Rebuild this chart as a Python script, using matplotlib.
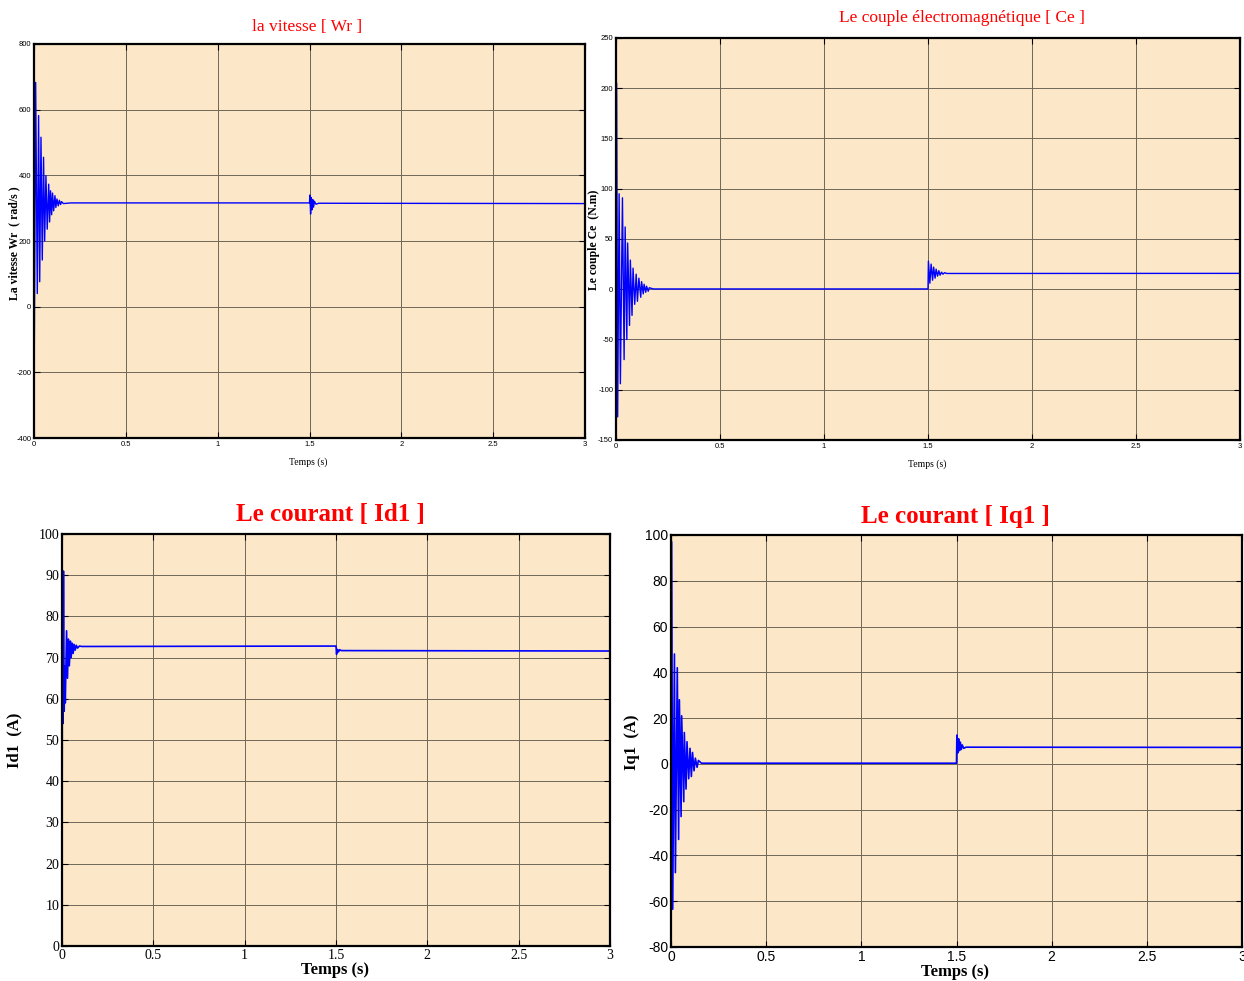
import matplotlib
matplotlib.use('Agg')
import matplotlib.pyplot as plt
import numpy as np

# ---- data (peaks of the oscillations) ----
# vitesse Wr (rad/s)
wr_t = [0.0, 0.009, 0.018, 0.025, 0.031, 0.038, 0.045, 0.052, 0.058, 0.065, 0.072,
        0.080, 0.085, 0.090, 0.096, 0.101, 0.107, 0.114, 0.119, 0.125, 0.132, 0.138,
        0.145, 0.150, 0.160, 0.20, 1.50, 1.502, 1.506, 1.510, 1.514, 1.518, 1.522,
        1.527, 1.535, 1.55, 3.0]
wr_v = [-310, 683, 40, 582, 76, 516, 142, 455, 200, 399, 236,
        373, 258, 353, 280, 346, 292, 338, 302, 328, 307, 324,
        311, 320, 314, 316, 316, 340, 282, 332, 295, 326, 303,
        321, 312, 315, 314]

# couple Ce (N.m)
ce_t = [0.0, 0.003, 0.008, 0.015, 0.021, 0.031, 0.039, 0.044, 0.052, 0.056, 0.065,
        0.069, 0.077, 0.082, 0.090, 0.097, 0.103, 0.110, 0.119, 0.123, 0.131, 0.135,
        0.143, 0.147, 0.155, 0.160, 0.18, 1.500, 1.502, 1.509, 1.515, 1.522, 1.527,
        1.534, 1.539, 1.546, 1.552, 1.558, 1.565, 1.572, 1.580, 1.59, 3.0]
ce_v = [-90, 205, -127, 95, -94, 91, -70, 62, -50, 46, -36,
        29, -26, 21, -15, 15, -12, 11, -8, 7.6, -4.6, 5,
        -3, 3, -2, 1.5, 0.3, 0.3, 28, 6, 25, 9, 22,
        11, 20, 13, 18.5, 14, 17, 15, 16.5, 15.7, 15.8]

# courant Id1 (A)
id_t = [0.0, 0.002, 0.005, 0.008, 0.012, 0.015, 0.018, 0.025, 0.030, 0.035, 0.040,
        0.046, 0.050, 0.056, 0.061, 0.066, 0.072, 0.078, 0.085, 0.095, 0.11, 1.500,
        1.503, 1.508, 1.514, 1.520, 1.53, 3.0]
id_v = [0, 85, 54, 91, 57, 68, 59, 76.5, 65, 74.5, 68,
        74, 70, 73.5, 71, 73.2, 71.8, 73, 72.3, 72.8, 72.7, 72.8,
        70.8, 72.0, 71.4, 71.9, 71.7, 71.6]

# courant Iq1 (A)
iq_t = [0.0, 0.0035, 0.009, 0.018, 0.023, 0.033, 0.040, 0.044, 0.053, 0.056, 0.067,
        0.070, 0.079, 0.084, 0.093, 0.100, 0.107, 0.113, 0.121, 0.128, 0.137, 0.144,
        0.16, 1.500, 1.502, 1.507, 1.511, 1.516, 1.520, 1.525, 1.530, 1.538, 1.55, 3.0]
iq_v = [-57, 97, -63.5, 48, -47.5, 42, -33, 28, -23, 21, -16.5,
        13.7, -11, 9.7, -6.5, 6.8, -5.5, 5, -3, 2.5, -1.5, 1.5,
        0.3, 0.3, 12.6, 4.8, 11, 5.8, 9.5, 6.3, 8.3, 6.8, 7.3, 7.2]

t_ticks = [0, 0.5, 1, 1.5, 2, 2.5, 3]
t_labels = ['0', '0.5', '1', '1.5', '2', '2.5', '3']

bg = '#fce8c9'
W, H = 1244, 981
fig = plt.figure(figsize=(W / 100, H / 100), dpi=100)


def box(l, t, r, b):
    return [l / W, 1 - b / H, (r - l) / W, (b - t) / H]


def style(ax, ylim, yticks, fs, fam, tlabels):
    ax.set_facecolor(bg)
    ax.set_xlim(0, 3)
    ax.set_ylim(*ylim)
    ax.set_xticks(t_ticks)
    ax.set_xticklabels(tlabels)
    ax.set_yticks(yticks)
    ax.set_yticklabels([str(v) for v in yticks])
    ax.grid(True, color='#6e6658', lw=0.7)
    ax.tick_params(direction='in', top=True, right=True, length=4, width=0.8,
                   labelsize=fs, pad=2)
    for lab in ax.get_xticklabels() + ax.get_yticklabels():
        lab.set_family(fam)
    for sp in ax.spines.values():
        sp.set_linewidth(1.6)


# haut gauche : vitesse
ax1 = fig.add_axes(box(34, 44, 585, 438))
ax1.plot(wr_t, wr_v, color='#0000ff', lw=1.0)
style(ax1, (-400, 800), list(range(-400, 801, 200)), 5.5, 'Liberation Sans', t_labels)
fig.text(307 / W, 1 - 27 / H, 'la vitesse [ Wr ]', color='red', fontsize=12.5,
         family='Liberation Serif', ha='center', va='center')
fig.text(308 / W, 1 - 462 / H, 'Temps (s)', fontsize=7, family='Liberation Serif',
         ha='center', va='center')
fig.text(14 / W, 1 - 243 / H, 'La vitesse Wr  ( rad/s )', fontsize=8.5, weight='bold',
         family='Liberation Serif', rotation=90, ha='center', va='center')

# haut droite : couple
ax2 = fig.add_axes(box(616, 38, 1240, 440))
ax2.plot(ce_t, ce_v, color='#0000ff', lw=1.0)
style(ax2, (-150, 250), list(range(-150, 251, 50)), 5.5, 'Liberation Sans', t_labels)
fig.text(962 / W, 1 - 18 / H, 'Le couple électromagnétique [ Ce ]', color='red',
         fontsize=12.5, family='Liberation Serif', ha='center', va='center')
fig.text(927 / W, 1 - 464 / H, 'Temps (s)', fontsize=7, family='Liberation Serif',
         ha='center', va='center')
fig.text(594 / W, 1 - 240 / H, 'Le couple Ce  (N.m)', fontsize=8.5, weight='bold',
         family='Liberation Serif', rotation=90, ha='center', va='center')

# bas gauche : Id1
ax3 = fig.add_axes(box(62, 534, 610, 946))
ax3.plot(id_t, id_v, color='#0000ff', lw=1.2)
style(ax3, (0, 100), list(range(0, 101, 10)), 10, 'Liberation Serif', t_labels)
fig.text(330 / W, 1 - 515 / H, 'Le courant [ Id1 ]', color='red', fontsize=18,
         weight='bold', family='Liberation Serif', ha='center', va='center')
fig.text(335 / W, 1 - 970 / H, 'Temps (s)', fontsize=12, weight='bold',
         family='Liberation Serif', ha='center', va='center')
fig.text(14 / W, 1 - 740 / H, 'Id1  (A)', fontsize=12, weight='bold',
         family='Liberation Serif', rotation=90, ha='center', va='center')

# bas droite : Iq1
ax4 = fig.add_axes(box(671, 535, 1242, 947))
ax4.plot(iq_t, iq_v, color='#0000ff', lw=1.2)
style(ax4, (-80, 100), list(range(-80, 101, 20)), 10, 'Liberation Sans', t_labels)
fig.text(955 / W, 1 - 516 / H, 'Le courant [ Iq1 ]', color='red', fontsize=18,
         weight='bold', family='Liberation Serif', ha='center', va='center')
fig.text(955 / W, 1 - 972 / H, 'Temps (s)', fontsize=12, weight='bold',
         family='Liberation Serif', ha='center', va='center')
fig.text(632 / W, 1 - 742 / H, 'Iq1  (A)', fontsize=12, weight='bold',
         family='Liberation Serif', rotation=90, ha='center', va='center')

fig.savefig('out.png', dpi=100)
